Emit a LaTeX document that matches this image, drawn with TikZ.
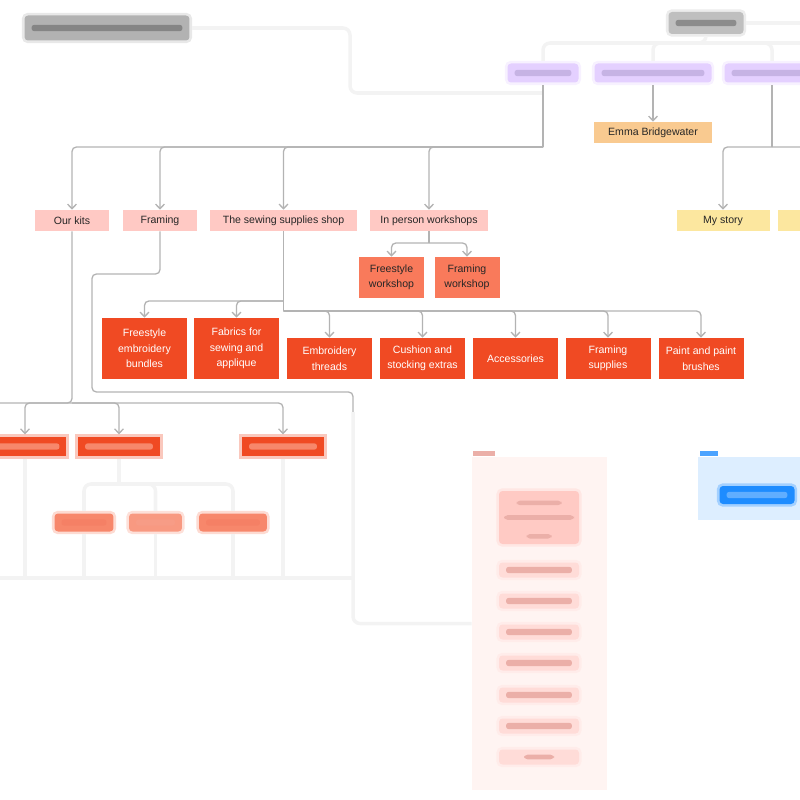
\documentclass[tikz,border=0pt]{standalone}
\usepackage{fontspec}
\setmainfont{Liberation Sans}
\usepackage{xcolor}
\usepackage{tikz}
\usetikzlibrary{arrows.meta,calc}

\definecolor{linegray}{HTML}{B3B3B3}
\definecolor{fadeline}{HTML}{F3F3F3}
\definecolor{secpink}{HTML}{FFC9C4}
\definecolor{pagered}{HTML}{F04A23}
\definecolor{fadered}{HTML}{F7876B}
\definecolor{wscoral}{HTML}{F97A5B}
\definecolor{emmaorange}{HTML}{F9CA90}
\definecolor{storyyellow}{HTML}{FCE79F}
\definecolor{menupurple}{HTML}{E4D0FF}
\definecolor{barpurple}{HTML}{C6B3E4}
\definecolor{panelpink}{HTML}{FFF4F2}
\definecolor{itempink}{HTML}{FFDCD8}
\definecolor{headpink}{HTML}{FFCAC4}
\definecolor{barpink}{HTML}{EBAFA8}
\definecolor{panelblue}{HTML}{DDEEFF}
\definecolor{buttonblue}{HTML}{1E8CFF}

\tikzset{
  base/.style={inner sep=0pt, font=\fontsize{6}{8.8}\selectfont, text=black!85, align=center},
  sec/.style={base, fill=secpink, minimum height=0.42cm, minimum width=#1},
  pagebox/.style={base, fill=pagered, text=white, minimum width=1.7cm, minimum height=#1},
  wsbox/.style={base, fill=wscoral, minimum width=1.3cm, minimum height=0.82cm},
  hazy/.style={base, fill=#1, draw=#1, draw opacity=0.3, line width=3pt, rounded corners=2pt},
  txtbar/.style={path picture={\fill[#1, rounded corners=1.5pt]
      ([xshift=4pt,yshift=-1.8pt]path picture bounding box.west) rectangle
      ([xshift=-4pt,yshift=1.8pt]path picture bounding box.east);}},
  link/.style={draw=linegray, line width=0.75pt, rounded corners=2.5pt},
  fade/.style={draw=fadeline, line width=2pt, rounded corners=4pt},
  arr/.style={-{Straight Barb[length=2.6pt,width=5pt]}}
}

\begin{document}
\begin{tikzpicture}[x=0.02cm, y=-0.02cm]
  \useasboundingbox (0,0) rectangle (800,800);

  % Out of focus headings
  \node[hazy=black!30, txtbar=black!48, minimum width=3.3cm, minimum height=0.5cm] (title) at (107,28) {};
  \node[hazy=black!25, txtbar=black!45, minimum width=1.5cm, minimum height=0.44cm] (home) at (706,23) {};

  % Menus (blurred)
  \node[hazy=menupurple, txtbar=barpurple, minimum width=1.42cm, minimum height=0.38cm] (shopmenu) at (543,73) {};
  \node[hazy=menupurple, txtbar=barpurple, minimum width=2.34cm, minimum height=0.38cm] (collabmenu) at (653,73) {};
  \node[hazy=menupurple, txtbar=barpurple, minimum width=1.9cm, minimum height=0.38cm] (aboutmenu) at (772,73) {};

  \node[sec=2.36cm, fill=emmaorange] (emma) at (653,132.5) {Emma Bridgewater};
  \node[sec=1.86cm, fill=storyyellow] (mystory) at (723,220.5) {My story};
  \node[sec=1.86cm, fill=storyyellow] (nextstory) at (824,220.5) {};

  % Shop sections
  \node[sec=1.48cm] (ourkits) at (72,220.5) {Our kits};
  \node[sec=1.5cm] (framing) at (160,220.5) {Framing};
  \node[sec=2.94cm] (sewing) at (283.5,220.5) {The sewing supplies shop};
  \node[sec=2.36cm] (inperson) at (429,220.5) {In person workshops};

  \node[wsbox] (freews) at (391.5,277.5) {Freestyle\\workshop};
  \node[wsbox] (framews) at (467,277.5) {Framing\\workshop};

  % Sewing shop pages
  \node[pagebox=1.22cm] (bundles) at (144.5,348.5) {Freestyle\\embroidery\\bundles};
  \node[pagebox=1.22cm] (fabrics) at (236.5,348.5) {Fabrics for\\sewing and\\applique};
  \node[pagebox=0.82cm] (threads) at (329.5,358.5) {Embroidery\\threads};
  \node[pagebox=0.82cm] (cushion) at (422.5,358.5) {Cushion and\\stocking extras};
  \node[pagebox=0.82cm] (accessories) at (515.5,358.5) {Accessories};
  \node[pagebox=0.82cm] (framesup) at (608,358.5) {Framing\\supplies};
  \node[pagebox=0.82cm] (paint) at (701,358.5) {Paint and paint\\brushes};

  % Kits pages (blurred)
  \node[hazy=pagered, txtbar=fadered, rounded corners=0pt, minimum width=1.66cm, minimum height=0.38cm] (needles) at (25,446.5) {};
  \node[hazy=pagered, txtbar=fadered, rounded corners=0pt, minimum width=1.64cm, minimum height=0.38cm] (samplers) at (119,446.5) {};
  \node[hazy=pagered, txtbar=fadered, rounded corners=0pt, minimum width=1.64cm, minimum height=0.38cm] (giftcards) at (283,446.5) {};
  \node[hazy=fadered, txtbar=pagered!70, minimum width=1.18cm, minimum height=0.36cm] (subone) at (84,522.5) {};
  \node[hazy=fadered!85, txtbar=pagered!55, minimum width=1.06cm, minimum height=0.36cm] (subtwo) at (155.5,522.5) {};
  \node[hazy=fadered, txtbar=pagered!70, minimum width=1.36cm, minimum height=0.36cm] (subthree) at (233,522.5) {};

  % Kit page panel
  \node[base, fill=panelpink, minimum width=2.7cm, minimum height=6.66cm] (kitpanel) at (539.5,623.5) {};
  \fill[barpink] (473,451) rectangle (495,456);
  \node[hazy=headpink, minimum width=1.6cm, minimum height=1.06cm,
        path picture={\fill[barpink] ($(path picture bounding box.center)+(-0.25cm,-12pt)$) rectangle ++(0.5cm,2.6pt);
                      \fill[barpink] ($(path picture bounding box.center)+(-0.7cm,-1.3pt)$) rectangle ++(1.4cm,2.6pt);
                      \fill[barpink] ($(path picture bounding box.center)+(-0.45cm,7pt)$) rectangle ++(0.9cm,2.6pt);}] (kithead) at (539,517.5) {};
  \node[hazy=itempink, txtbar=barpink, minimum width=1.6cm, minimum height=0.3cm] (itemone) at (539,570) {};
  \node[hazy=itempink, txtbar=barpink, minimum width=1.6cm, minimum height=0.3cm] (itemtwo) at (539,601) {};
  \node[hazy=itempink, txtbar=barpink, minimum width=1.6cm, minimum height=0.3cm] (itemthree) at (539,632) {};
  \node[hazy=itempink, txtbar=barpink, minimum width=1.6cm, minimum height=0.3cm] (itemfour) at (539,663) {};
  \node[hazy=itempink, txtbar=barpink, minimum width=1.6cm, minimum height=0.3cm] (itemfive) at (539,695) {};
  \node[hazy=itempink, txtbar=barpink, minimum width=1.6cm, minimum height=0.3cm] (itemsix) at (539,726) {};
  \node[hazy=itempink, minimum width=1.6cm, minimum height=0.3cm,
        path picture={\fill[barpink] ($(path picture bounding box.center)+(-0.3cm,-1.3pt)$) rectangle ++(0.6cm,2.6pt);}] (itemseven) at (539,757) {};

  % Blue panel
  \node[base, fill=panelblue, minimum width=2.04cm, minimum height=1.26cm] (bluepanel) at (749,488.5) {};
  \fill[buttonblue!80] (700,451) rectangle (718,456);
  \node[hazy=buttonblue, txtbar=buttonblue!70!white, minimum width=1.5cm, minimum height=0.36cm] (bluebutton) at (757,495) {};

  % Top connectors (blurred)
  \coordinate (homej) at (706,43);
  \draw[fade] (home.south) -- (homej) -| (shopmenu.north);
  \draw[fade] (homej) -| (collabmenu.north);
  \draw[fade] (homej) -| (aboutmenu.north);
  \draw[fade] (homej) -- (810,43);
  \draw[fade] (home.east) -- (810,23);
  \coordinate (shopj) at (543,93);
  \draw[fade] (title.east) -| (350,93) -- (shopj);

  % Menu connectors
  \coordinate (kitsj) at (543,147);
  \draw[link] (shopmenu.south) -- (kitsj);
  \draw[link,arr] (kitsj) -| (ourkits.north);
  \draw[link,arr] (kitsj) -| (framing.north);
  \draw[link,arr] (kitsj) -| (sewing.north);
  \draw[link,arr] (kitsj) -| (inperson.north);
  \draw[link,arr] (collabmenu.south) -- (emma.north);
  \coordinate (aboutj) at (772,147);
  \draw[link] (aboutmenu.south) -- (aboutj);
  \draw[link,arr] (aboutj) -| (mystory.north);
  \draw[link,arr] (aboutj) -| (nextstory.north);

  % Workshops
  \coordinate (wsj) at (429,243);
  \draw[link] (inperson.south) -- (wsj);
  \draw[link,arr] (wsj) -| (freews.north);
  \draw[link,arr] (wsj) -| (framews.north);

  % Sewing shop
  \coordinate (sewj) at (283.5,301);
  \coordinate (sewk) at (283.5,311);
  \draw[link] (sewing.south) -- (sewk);
  \draw[link,arr] (sewj) -| (bundles.north);
  \draw[link,arr] (sewj) -| (fabrics.north);
  \draw[link,arr] (sewk) -| (threads.north);
  \draw[link,arr] (sewk) -| (cushion.north);
  \draw[link,arr] (sewk) -| (accessories.north);
  \draw[link,arr] (sewk) -| (framesup.north);
  \draw[link,arr] (sewk) -| (paint.north);

  % Framing to the kit panel
  \draw[link] (framing.south) |- (92,274) -- (92,392) -| (353,412);
  \draw[fade] (353,412) |- (kitpanel.west);

  % Our kits
  \coordinate (kitsk) at (72,403);
  \draw[link] (ourkits.south) -- (kitsk) -- (-5,403);
  \draw[link,arr] (kitsk) -| (needles.north);
  \draw[link,arr] (kitsk) -| (samplers.north);
  \draw[link,arr] (kitsk) -| (giftcards.north);

  % Blurred lower branches
  \coordinate (sampj) at (119,484);
  \draw[fade] (samplers.south) -- (sampj);
  \draw[fade] (sampj) -| (subone.north);
  \draw[fade] (sampj) -| (subtwo.north);
  \draw[fade] (sampj) -| (subthree.north);
  \coordinate (lowj) at (283,578);
  \draw[fade] (-5,578) -- (353,578);
  \draw[fade] (needles.south) -- (25,578);
  \draw[fade] (subone.south) -- (84,578);
  \draw[fade] (subtwo.south) -- (155.5,578);
  \draw[fade] (subthree.south) -- (233,578);
  \draw[fade] (giftcards.south) -- (lowj);
\end{tikzpicture}
\end{document}
